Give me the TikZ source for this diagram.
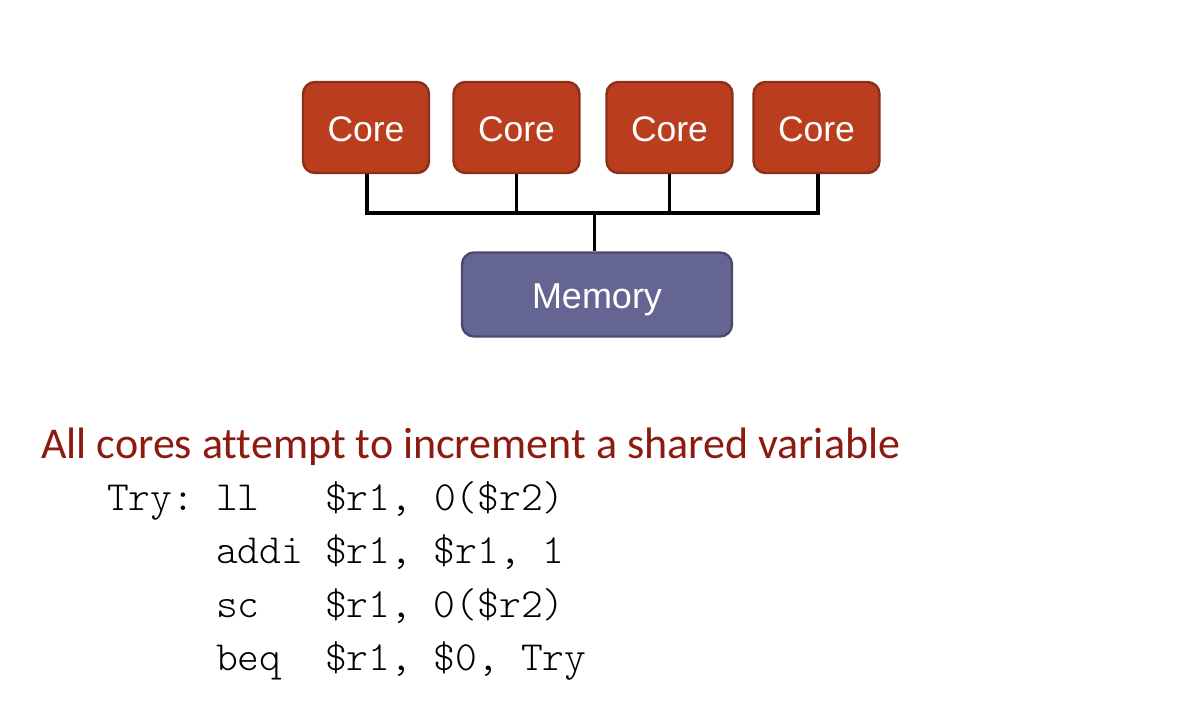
\documentclass[tikz,border=0pt]{standalone}
\usepackage{fontspec}
\setmainfont{Liberation Sans}
\newfontfamily\headfont[Ligatures=NoCommon]{Carlito}
\newfontfamily\codefont{Latin Modern Mono Light}
\definecolor{corefill}{HTML}{BA3E1E}
\definecolor{coreedge}{HTML}{8B3018}
\definecolor{memfill}{HTML}{656594}
\definecolor{memedge}{HTML}{4A4A70}
\definecolor{headred}{HTML}{8B1A10}
\begin{document}
\begin{tikzpicture}[x=1pt,y=-1pt,
  corebox/.style={draw=coreedge, line width=2.4pt, fill=corefill, rounded corners=12pt,
    minimum width=126pt, minimum height=91pt, inner sep=0pt, text=white,
    text height=28pt, text depth=0pt,
    font=\fontsize{35.5}{38}\selectfont},
  membox/.style={draw=memedge, line width=2.4pt, fill=memfill, rounded corners=12pt,
    minimum width=270pt, minimum height=84pt, inner sep=0pt, text=white,
    text height=27.6pt, text depth=0pt,
    font=\fontsize{36}{38}\selectfont},
  bus/.style={line width=3.8pt, black},
  codeline/.style={anchor=base west, inner sep=0pt, font=\codefont\fontsize{41.5}{44}\selectfont}
]
\useasboundingbox (0,0) rectangle (1204,710);
\node[corebox] (c1) at (366,127.5) {Core};
\node[corebox] (c2) at (516.5,127.5) {Core};
\node[corebox] (c3) at (669.5,127.5) {Core};
\node[corebox] (c4) at (816.5,127.5) {Core};
\node[membox] (mem) at (597,294.5) {Memory};
\coordinate (b1) at (367,213);
\coordinate (b4) at (818,213);
\coordinate (bm) at (594.5,213);
\draw[bus] (b1 |- c1.south) -- (b1) -- (b4) -- (b4 |- c4.south);
\draw[bus] (c2.south) -- (c2.south |- b1);
\draw[bus] (c3.south) -- (c3.south |- b1);
\draw[bus] (bm) -- (bm |- mem.north);
\node[anchor=base west, inner sep=0pt, text=headred, font=\headfont\fontsize{44}{48}\selectfont] (head) at (41,458) {All cores attempt to increment a shared variable};
\node[codeline] (l1) at (107,510) {Try:\ ll\ \ \ \$r1,\ 0(\$r2)};
\node[codeline] (l2) at (107,563) {\ \ \ \ \ addi\ \$r1,\ \$r1,\ 1};
\node[codeline] (l3) at (107,617) {\ \ \ \ \ sc\ \ \ \$r1,\ 0(\$r2)};
\node[codeline] (l4) at (107,670) {\ \ \ \ \ beq\ \ \$r1,\ \$0,\ Try};
\end{tikzpicture}
\end{document}
